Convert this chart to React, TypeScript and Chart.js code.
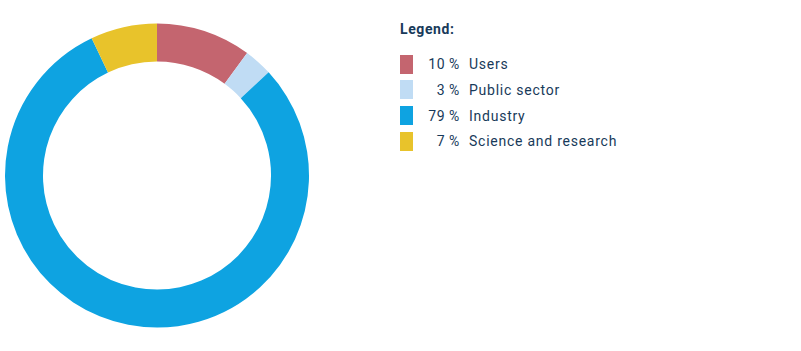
import React, { useEffect, useRef } from "react";
import { Chart, registerables } from "chart.js";

Chart.register(...registerables);

const categories = ["Users", "Public sector", "Industry", "Science and research"];
const shares = [10, 3, 79, 7];
const colors = ["#c4656f", "#c0dcf4", "#0ea3e1", "#e8c32b"];
const legendTitle = "Legend:";
const textColor = "#183a5a";
const font = "Roboto, 'DejaVu Sans', sans-serif";

export default function App() {
  const ref = useRef<HTMLCanvasElement | null>(null);

  useEffect(() => {
    document.body.style.margin = "0";
    if (!ref.current) return;
    const chart = new Chart(ref.current, {
      type: "doughnut",
      data: {
        labels: categories,
        datasets: [
          {
            data: shares,
            backgroundColor: colors,
            borderWidth: 0,
          },
        ],
      },
      options: {
        responsive: false,
        animation: false,
        cutout: "75%",
        layout: { padding: 5 },
        plugins: {
          legend: { display: false },
          tooltip: { enabled: false },
        },
      },
    });
    return () => chart.destroy();
  }, []);

  return (
    <div style={{ position: "absolute", left: 0, top: 0, width: 801, height: 351, background: "#fff", fontFamily: font, color: textColor }}>
      <canvas ref={ref} width={314} height={351} style={{ position: "absolute", left: 0, top: 0, width: 314, height: 351 }} />
      <div style={{ position: "absolute", left: 400, top: 21, fontSize: 14, fontWeight: 700, letterSpacing: 0.6 }}>{legendTitle}</div>
      {categories.map((c, i) => (
        <div key={c} style={{ position: "absolute", left: 400, top: 54 + i * 25.8, height: 20, display: "flex", alignItems: "center", fontSize: 14, letterSpacing: 0.75 }}>
          <div style={{ width: 13, height: 19, background: colors[i] }} />
          <div style={{ width: 47, textAlign: "right" }}>{shares[i]}&#8201;%</div>
          <div style={{ marginLeft: 9 }}>{c}</div>
        </div>
      ))}
    </div>
  );
}
